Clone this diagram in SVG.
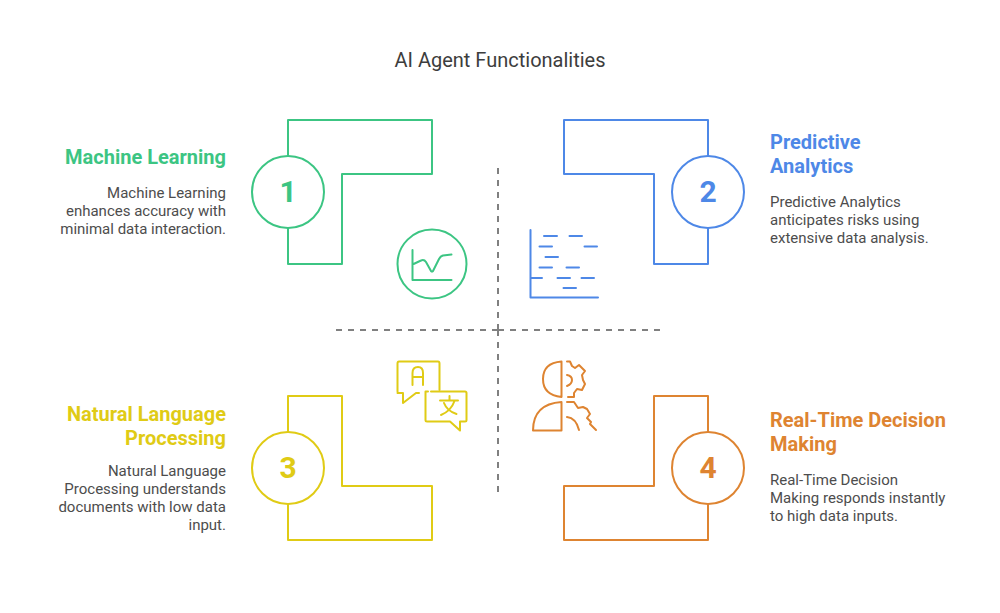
<svg xmlns="http://www.w3.org/2000/svg" width="1000" height="613" viewBox="0 0 1000 613">
<style>
text{font-family:Roboto,"Liberation Sans",sans-serif}
.t{font-size:20px;fill:#3d3d3d;text-anchor:middle}
.h{font-size:20px;font-weight:700}
.d{font-size:15px;fill:#4d4d4d}
.e{text-anchor:end}
.n{font-size:30px;font-weight:700;text-anchor:middle}
.s{fill:none;stroke-width:2;stroke-linejoin:round;stroke-linecap:round}
.g{stroke:#3cc583;fill:none}.gt{fill:#3cc583}
.b{stroke:#4e88e7;fill:none}.bt{fill:#4e88e7}
.y{stroke:#e0cb15;fill:none}.yt{fill:#e0cb15}
.o{stroke:#de8431;fill:none}.ot{fill:#de8431}
.i{stroke-width:2;stroke-linecap:round;stroke-linejoin:round}
</style>
<rect width="1000" height="613" fill="#fff"/>
<text class="t" x="500" y="67">AI Agent Functionalities</text>
<g id="connectors">
<path d="M498 330V168M498 330V492M498 330H336M498 330H660" fill="none" stroke="#808080" stroke-width="2" stroke-dasharray="6 6"/>
</g>
<g id="node-1">
<path class="s g" d="M288 156V120H432V174H342V264H288V228"/>
<circle class="s g" cx="288" cy="192" r="36"/>
<text class="n gt" x="288" y="202">1</text>
<text class="h gt e" x="226" y="164">Machine Learning</text>
<text class="d e"><tspan x="226" y="198">Machine Learning</tspan><tspan x="226" y="216">enhances accuracy with</tspan><tspan x="226" y="234">minimal data interaction.</tspan></text>
</g>
<g id="node-2">
<path class="s b" d="M708 156V120H564V174H654V264H708V228"/>
<circle class="s b" cx="708" cy="192" r="36"/>
<text class="n bt" x="708" y="202">2</text>
<text class="h bt"><tspan x="770" y="149">Predictive</tspan><tspan x="770" y="173">Analytics</tspan></text>
<text class="d"><tspan x="770" y="207">Predictive Analytics</tspan><tspan x="770" y="225">anticipates risks using</tspan><tspan x="770" y="243">extensive data analysis.</tspan></text>
</g>
<g id="node-3">
<path class="s y" d="M288 432V396H342V486H432V540H288V504"/>
<circle class="s y" cx="288" cy="468" r="36"/>
<text class="n yt" x="288" y="478">3</text>
<text class="h yt e"><tspan x="226" y="421">Natural Language</tspan><tspan x="226" y="445">Processing</tspan></text>
<text class="d e"><tspan x="226" y="476">Natural Language</tspan><tspan x="226" y="494">Processing understands</tspan><tspan x="226" y="512">documents with low data</tspan><tspan x="226" y="530">input.</tspan></text>
</g>
<g id="node-4">
<path class="s o" d="M708 432V396H654V486H564V540H708V504"/>
<circle class="s o" cx="708" cy="468" r="36"/>
<text class="n ot" x="708" y="478">4</text>
<text class="h ot"><tspan x="770" y="427">Real-Time Decision</tspan><tspan x="770" y="451">Making</tspan></text>
<text class="d"><tspan x="770" y="485">Real-Time Decision</tspan><tspan x="770" y="503">Making responds instantly</tspan><tspan x="770" y="521">to high data inputs.</tspan></text>
</g>
<g id="icon-1" class="i g">
<circle cx="432" cy="264" r="34.500"/>
<path d="M412.500 250V280H451.500M412.500 264.500L421 260.500Q424 259 426 262L431 271Q432 272 433 271L439 259Q440.500 256 443 255.500L451.500 254.500"/>
</g>
<g id="icon-2" class="i b">
<path d="M530.500 230V297.500H598M530.500 278H542M544 236H557M569.500 236H582M539.500 246.500H552M584.500 246.500H597M545.500 257H558M539.500 267.500H552M566.500 267.500H579M557.500 278H570M581.500 278H594M563.500 288H576"/>
</g>
<g id="icon-3" class="i y">
<path d="M398 393Q397.500 393 397.500 391V363.500Q397.500 361.500 399 361.500H438Q439.500 361.500 439.500 363.500V390M397.500 393H403V403L416 393H419"/>
<path d="M428 391.500H425.500V420Q425.500 421.500 427 421.500H450L460 430.500V421.500H465Q466.500 421.500 466.500 420V393Q466.500 391.500 465 391.500H431"/>
<path d="M412.500 385V373Q412.500 367 418 367Q423 367 423 373V385M412.500 377H423M440 400.500H458M449.500 396V400.500M454.500 401Q451 411 441 415M444 403Q447 411 456.500 414"/>
</g>
<g id="icon-4" class="i o">
<path d="M561.500 361.500Q543 363 543 379Q543 395 561.500 397ZM561.500 402V430.500H533Q533 404 561.500 402ZM567 361.500H570L572 366L575 368L579 365L585 371L582 375L583 380L585 384L582 390L577 389L574 393L574 397L568 397M567 375Q572 376 572 380Q572 384 567 386M567 402H574L578 408L583 407L587 409L590 414L587 418L591 422L590 424L596 430M567 417Q576 418 579 430"/>
</g>
</svg>
